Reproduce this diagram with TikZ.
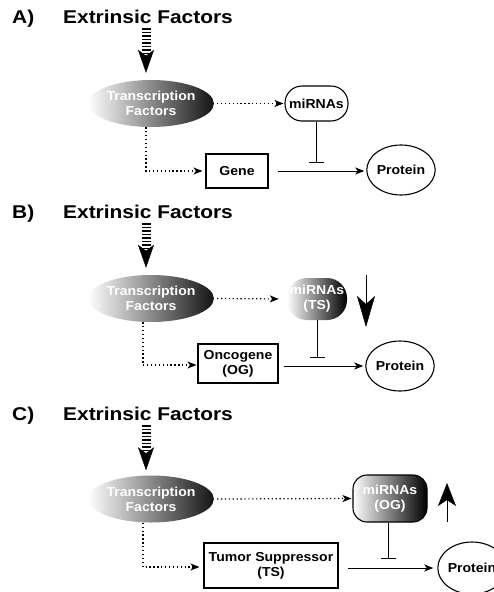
\documentclass[tikz,border=0pt]{standalone}
\usepackage{fontspec}
\setmainfont{Liberation Sans}
\newfontfamily\labelfont{Liberation Sans}[FakeStretch=1.08]
\newfontfamily\headfont{Liberation Sans}[FakeStretch=1.13]
\usetikzlibrary{arrows.meta,shapes.geometric}

\tikzset{
  headtext/.style={anchor=base west, inner sep=0pt,
    font=\headfont\bfseries\fontsize{18.5}{20}\selectfont},
  lbl/.style={align=center, inner sep=0pt,
    font=\labelfont\bfseries\fontsize{13}{15}\selectfont},
  tfnode/.style={lbl, ellipse, minimum width=108pt, minimum height=47pt,
    left color=white, middle color=black!45, right color=black!92, text=white},
  mirplain/.style={lbl, draw, line width=1.1pt, rounded corners=17pt,
    minimum width=63pt, minimum height=35pt},
  mirshade/.style={lbl, rounded corners=20pt, minimum width=60pt, minimum height=42pt,
    left color=white, middle color=black!55, right color=black, text=white},
  mirbox/.style={lbl, draw, line width=1.1pt, rounded corners=14pt,
    minimum width=74pt, minimum height=47pt,
    left color=white, middle color=black!50, right color=black, text=white},
  genebox/.style={lbl, draw, line width=1.1pt},
  protnode/.style={lbl, draw, ellipse, line width=1.1pt, minimum width=58pt, minimum height=50pt},
  dotarrow/.style={line width=1.2pt, dash pattern=on 1.3pt off 2.6pt,
    -{Stealth[length=9pt, width=7pt, inset=2.5pt]}},
  solidarrow/.style={line width=1pt, -{Stealth[length=9pt, width=7pt, inset=2.5pt]}},
  inhibit/.style={line width=1pt, -{Bar[width=15pt, line width=1.2pt]}},
  bigdash/.style={line width=9pt, dash pattern=on 1.8pt off 1.7pt,
    -{Stealth[length=23pt, width=16pt, inset=6pt, line width=0.5pt]}},
  trenddown/.style={line width=1pt,
    -{Stealth[length=31pt, width=18pt, inset=8pt, line width=0.5pt]}},
  trendup/.style={line width=1pt,
    -{Stealth[length=23pt, width=18pt, inset=6pt, line width=0.5pt]}},
}

\begin{document}
\begin{tikzpicture}[x=1pt, y=-1pt]
\useasboundingbox (0,0) rectangle (494,592);
\clip (0,0) rectangle (494,592);

% ---------- A) ----------
\node[headtext] (labA) at (12,23.5) {A)};
\node[headtext] (headA) at (63,23.5) {Extrinsic Factors};
\coordinate (srcA) at (146,28);
\node[tfnode] (tfA) at (151,103.5) {Transcription\\Factors};
\node[mirplain] (miA) at (316.5,103.5) {miRNAs};
\coordinate (barA) at (316.5,163);
\node[genebox, minimum width=62pt, minimum height=34pt] (geneA) at (237,171) {Gene};
\node[protnode] (protA) at (401,170) {Protein};

\draw[bigdash, shorten >=7pt] (srcA) -- (srcA |- tfA.north);
\draw[dotarrow, shorten <=3pt, shorten >=1pt] (tfA.east) -- (miA.west);
\draw[inhibit] (miA.south) -- (barA);
\draw[dotarrow, shorten >=3pt] ([xshift=-5pt]tfA.south) |- (geneA.west);
\draw[solidarrow, shorten <=9pt, shorten >=2pt] (geneA.east) -- (geneA.east -| protA.west);

% ---------- B) ----------
\node[headtext] (labB) at (12,218.5) {B)};
\node[headtext] (headB) at (63,218.5) {Extrinsic Factors};
\coordinate (srcB) at (146,223);
\node[tfnode] (tfB) at (151,298.5) {Transcription\\Factors};
\node[mirshade] (miB) at (317,299) {miRNAs\\(TS)};
\coordinate (dnTopB) at (366,275);
\coordinate (dnEndB) at (366,327);
\coordinate (barB) at (317,358);
\node[genebox, minimum width=80pt, minimum height=39pt] (ogB) at (238,363.5) {Oncogene\\(OG)};
\node[protnode] (protB) at (400,366) {Protein};

\draw[bigdash, shorten >=7pt] (srcB) -- (srcB |- tfB.north);
\draw[dotarrow, shorten <=3pt, shorten >=8pt] (tfB.east) -- (miB.west);
\draw[trenddown] (dnTopB) -- (dnEndB);
\draw[inhibit] (miB.south) -- (barB);
\draw[dotarrow, shorten >=1pt] ([xshift=-8pt]tfB.south) |- ([yshift=-1.5pt]ogB.west);
\draw[solidarrow, shorten <=5pt, shorten >=2pt] (ogB.east |- protB) -- (protB.west);

% ---------- C) ----------
\node[headtext] (labC) at (12,420) {C)};
\node[headtext] (headC) at (63,420) {Extrinsic Factors};
\coordinate (srcC) at (146,425);
\node[tfnode] (tfC) at (151,499) {Transcription\\Factors};
\node[mirbox] (miC) at (390,498.5) {miRNAs\\(OG)};
\coordinate (upEndC) at (447,522);
\coordinate (upTopC) at (447,483);
\coordinate (barC) at (388,559);
\node[genebox, minimum width=134pt, minimum height=45pt] (tsC) at (271,565.5) {Tumor Suppressor\\(TS)};
\node[protnode, minimum width=60pt, minimum height=52pt] (protC) at (472,568) {Protein};

\draw[bigdash, shorten >=5pt] (srcC) -- (srcC |- tfC.north);
\draw[dotarrow, shorten <=3pt, shorten >=1pt] (tfC.east) -- (miC.west);
\draw[trendup] (upEndC) -- (upTopC);
\draw[inhibit] ([xshift=-2pt]miC.south) -- (barC);
\draw[dotarrow, shorten >=4pt] ([xshift=-8pt]tfC.south) |- ([yshift=-1.5pt]tsC.west);
\draw[solidarrow, shorten <=9pt, shorten >=4pt] (tsC.east |- protC) -- (protC.west);
\end{tikzpicture}
\end{document}
